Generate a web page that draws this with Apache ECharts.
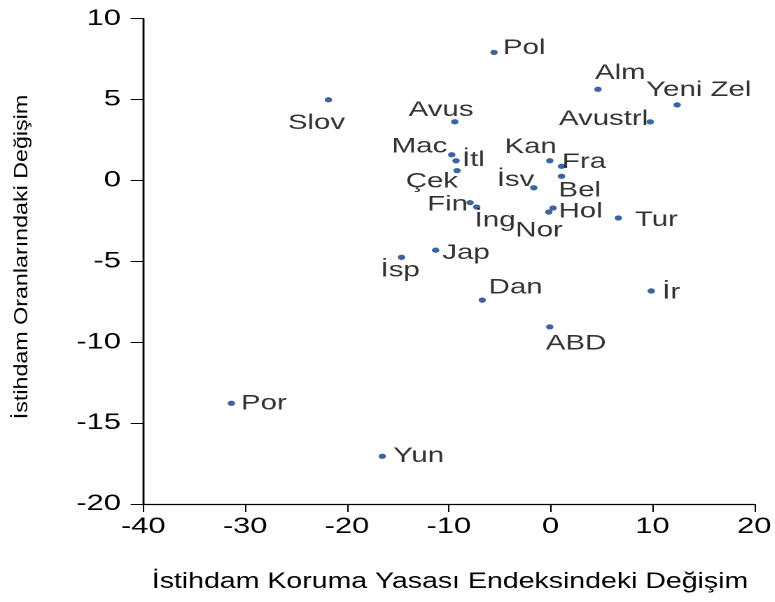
<!DOCTYPE html>
<html>
<head>
<meta charset="utf-8">
<script src="https://cdn.jsdelivr.net/npm/echarts@6/dist/echarts.min.js"></script>
<style>
  html, body { margin: 0; padding: 0; background: #fff; }
  #wrap { width: 775px; height: 602px; overflow: hidden; position: relative; }
  #chart { height: 602px; transform-origin: 0 0; position: absolute; left: 0; top: 0; }
</style>
</head>
<body>
<div id="wrap"><div id="chart"></div></div>
<script>
// ---- data ----
const countries = ['Pol','Alm','Yeni Zel','Avustrl','Slov','Avus','Mac','İtl','Çek','Kan','Fra','Bel','İsv','Fin','İng','Hol','Nor','Tur','Jap','İsp','Dan','İr','ABD','Por','Yun'];
const epIndexChange = [-5.56, 4.65, 12.43, 9.78, -21.82, -9.41, -9.71, -9.29, -9.19, -0.08, 1.07, 1.07, -1.65, -7.91, -7.26, 0.24, -0.18, 6.65, -11.29, -14.64, -6.71, 9.88, -0.08, -31.35, -16.53];
const empRateChange = [7.92, 5.64, 4.67, 3.62, 4.99, 3.63, 1.59, 1.22, 0.61, 1.22, 0.88, 0.26, -0.45, -1.37, -1.64, -1.70, -1.95, -2.32, -4.31, -4.75, -7.40, -6.83, -9.05, -13.77, -17.05];
const xTicks = [-40, -30, -20, -10, 0, 10, 20];
const yTicks = [-20, -15, -10, -5, 0, 5, 10];
const xTitle = 'İstihdam Koruma Yasası Endeksindeki Değişim';
const yTitle = 'İstihdam Oranlarındaki Değişim';

// ---- label placement (style only: anchor, dx, dy in screen px relative to the dot) ----
const labelPlace = {
  'Pol': ['left', 9, -4], 'Alm': ['left', -3, -16], 'Yeni Zel': ['left', -31, -14.8],
  'Avustrl': ['right', -2, -2.8], 'Slov': ['center', -12, 23.6], 'Avus': ['center', -13.7, -11.7],
  'Mac': ['right', -4.5, -8], 'İtl': ['left', 6, -0.5], 'Çek': ['right', 1, 11],
  'Kan': ['right', 7, -13.7], 'Fra': ['left', 0.5, -4], 'Bel': ['left', -3, 14.2],
  'İsv': ['right', 0.5, -7.7], 'Fin': ['right', -2, 2], 'İng': ['left', -2, 13.8],
  'Nor': ['right', 14, 18.5], 'Hol': ['left', 5.5, 3.5], 'Tur': ['left', 16.5, 2.2],
  'Jap': ['left', 6.7, 2.9], 'İsp': ['center', -1.5, 13.2], 'Dan': ['left', 6.4, -12.5],
  'İr': ['left', 11, 1.7], 'ABD': ['left', -4, 16.8], 'Por': ['left', 9.6, 0.4], 'Yun': ['left', 11, 0]
};

const S = 1.4;                 // horizontal stretch of the reference picture
const W = 775 / S;
const chartDom = document.getElementById('chart');
chartDom.style.width = W + 'px';
chartDom.style.transform = 'scaleX(' + S + ')';

const FONT = "'Liberation Sans', Arial, sans-serif";
const dotColor = '#0b3f88';

const points = countries.map((name, i) => {
  const p = labelPlace[name];
  return {
    name: name,
    value: [epIndexChange[i], empRateChange[i]],
    label: {
      show: true,
      position: 'inside',
      align: p[0],
      verticalAlign: 'middle',
      offset: [p[1] / S, p[2]]
    }
  };
});

const chart = echarts.init(chartDom, null, { renderer: 'canvas', devicePixelRatio: 2 });
chart.setOption({
  animation: false,
  backgroundColor: '#fff',
  grid: { left: 143.3 / S, right: W - 756 / S, top: 18.7, bottom: 98, containLabel: false },
  xAxis: {
    type: 'value', min: xTicks[0], max: xTicks[xTicks.length - 1], interval: 10,
    axisLine: { show: true, onZero: false, lineStyle: { color: '#000', width: 1.2 } },
    axisTick: { show: true, length: 8, lineStyle: { color: '#000', width: 1 } },
    axisLabel: { color: '#000', fontSize: 22, fontFamily: FONT, margin: 12 },
    splitLine: { show: false }
  },
  yAxis: {
    type: 'value', min: yTicks[0], max: yTicks[yTicks.length - 1], interval: 5,
    axisLine: { show: true, onZero: false, lineStyle: { color: '#000', width: 1.4 } },
    axisTick: { show: true, length: 9, lineStyle: { color: '#000', width: 1 } },
    axisLabel: { color: '#000', fontSize: 22, fontFamily: FONT, margin: 16, padding: [0, 0, 5, 0] },
    splitLine: { show: false }
  },
  graphic: [
    {
      type: 'text', x: 450 / S, y: 582, scaleX: 0.925,
      style: { text: xTitle, font: '22px ' + FONT, fill: '#000', align: 'center', verticalAlign: 'middle', textAlign: 'center', textVerticalAlign: 'middle' }
    },
    {
      type: 'text', x: 22 / S, y: 257, rotation: Math.PI / 2, scaleX: 1.224, scaleY: 0.716,
      style: { text: yTitle, font: '19px ' + FONT, fill: '#000', align: 'center', verticalAlign: 'middle', textAlign: 'center', textVerticalAlign: 'middle' }
    }
  ],
  series: [{
    type: 'scatter',
    symbol: 'circle',
    symbolSize: 5.3,
    itemStyle: { color: dotColor },
    label: { color: '#000', fontSize: 21, fontFamily: FONT, formatter: '{b}' },
    emphasis: { disabled: true },
    data: points
  }]
});
</script>
</body>
</html>
